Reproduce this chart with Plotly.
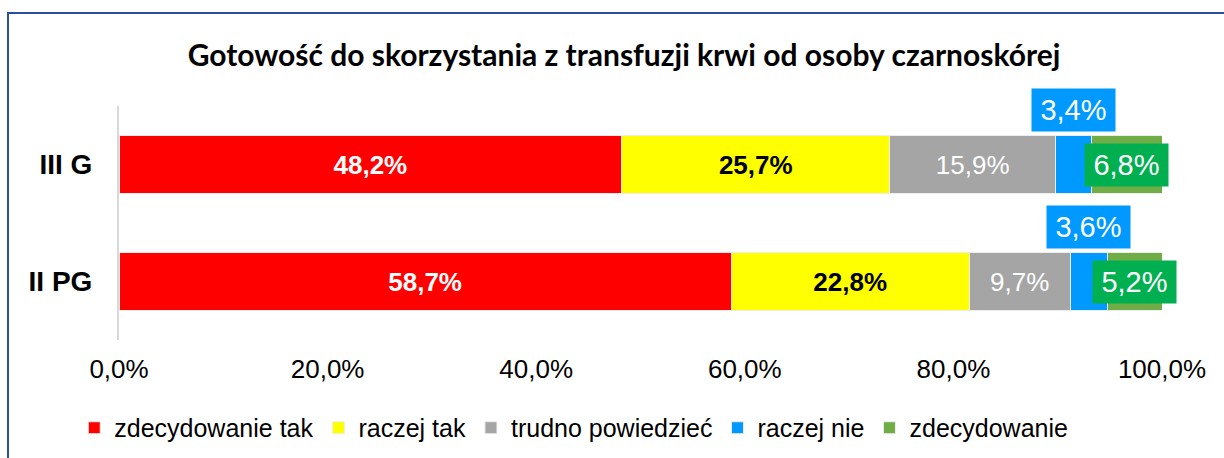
import plotly.graph_objects as go

# Survey groups (top to bottom) and answer categories
groups = ["III G", "II PG"]
answers = ["zdecydowanie tak", "raczej tak", "trudno powiedzieć", "raczej nie", "zdecydowanie"]

# Percent of answers per group, one list per answer category
zdecydowanie_tak = [48.2, 58.7]
raczej_tak = [25.7, 22.8]
trudno_powiedziec = [15.9, 9.7]
raczej_nie = [3.4, 3.6]
zdecydowanie_nie = [6.8, 5.2]

x_ticks = [0, 20, 40, 60, 80, 100]

series = [zdecydowanie_tak, raczej_tak, trudno_powiedziec, raczej_nie, zdecydowanie_nie]
colors = ["#FF0000", "#FFFF00", "#A5A5A5", "#0099FF", "#70AD47"]
label_bg = {3: "#0099FF", 4: "#00B050"}


def pct(v):
    return f"{v:.1f}".replace(".", ",") + "%"


inside_fonts = [
    dict(family="Arial, Liberation Sans, sans-serif", size=26, color="white", weight="bold"),
    dict(family="Arial, Liberation Sans, sans-serif", size=26, color="black", weight="bold"),
    dict(family="Arial, Liberation Sans, sans-serif", size=26, color="white"),
]

fig = go.Figure()
for i, (name, vals, col) in enumerate(zip(answers, series, colors)):
    show_text = i < 3
    fig.add_trace(go.Bar(
        y=groups, x=vals, name=name, orientation="h",
        marker=dict(color=col, line=dict(color="#EDEDED", width=1)),
        text=[pct(v) for v in vals] if show_text else None,
        textposition="inside" if show_text else "none",
        insidetextanchor="middle",
        insidetextfont=inside_fonts[i] if show_text else None,
        constraintext="none",
        hoverinfo="skip",
    ))

# Boxed labels for the two narrow right-hand segments
annotations = []
for gi, g in enumerate(groups):
    start = 0.0
    for si, vals in enumerate(series):
        v = vals[gi]
        if si in label_bg:
            annotations.append(dict(
                x=start + v / 2, y=g, xref="x", yref="y",
                text=pct(v), showarrow=False,
                yshift=55 if si == 3 else 0,
                font=dict(family="Arial, Liberation Sans, sans-serif", size=29, color="white"),
                bgcolor=label_bg[si], width=77, height=36, borderpad=3,
                align="center", valign="middle",
            ))
        start += v

fig.update_layout(
    barmode="stack",
    bargap=0.5,
    width=1224, height=458,
    margin=dict(l=119, r=62, t=106, b=118, autoexpand=False),
    paper_bgcolor="white", plot_bgcolor="white",
    separators=", ",
    title=dict(
        text="<b>Gotowość do skorzystania z transfuzji krwi od osoby czarnoskórej</b>",
        x=624 / 1224, xanchor="center", xref="container",
        y=1 - 55 / 458, yanchor="middle", yref="container",
        font=dict(family="Lato, Open Sans, sans-serif", size=30, color="black"),
    ),
    xaxis=dict(
        range=[0, 100], tickvals=x_ticks,
        ticktext=[pct(t) for t in x_ticks],
        showgrid=False, zeroline=False, showline=False, ticks="",
        ticklabelstandoff=11, automargin=False,
        tickfont=dict(family="Arial, Liberation Sans, sans-serif", size=26, color="black"),
        fixedrange=True,
    ),
    yaxis=dict(
        range=[len(groups) - 0.5, -0.5], showgrid=False, zeroline=False,
        showline=True, linecolor="#D9D9D9", linewidth=2, ticks="",
        ticklabelstandoff=19, automargin=False,
        tickfont=dict(family="Arial, Liberation Sans, sans-serif", size=28, color="black", weight="bold"),
        fixedrange=True,
    ),
    legend=dict(
        orientation="h", x=0.436, xanchor="center", y=-0.376, yanchor="middle",
        font=dict(family="Arial, Liberation Sans, sans-serif", size=25, color="black"),
        traceorder="normal", itemclick=False, itemdoubleclick=False,
    ),
    annotations=annotations,
    shapes=[dict(
        type="rect", xref="paper", yref="paper",
        x0=(8 - 119) / 1043, x1=1.3, y0=-1.0, y1=(340 - 13) / 234,
        line=dict(color="#2B4EA2", width=2), fillcolor="rgba(0,0,0,0)", layer="below",
    )],
    showlegend=True,
)

fig.write_html("out.html")
